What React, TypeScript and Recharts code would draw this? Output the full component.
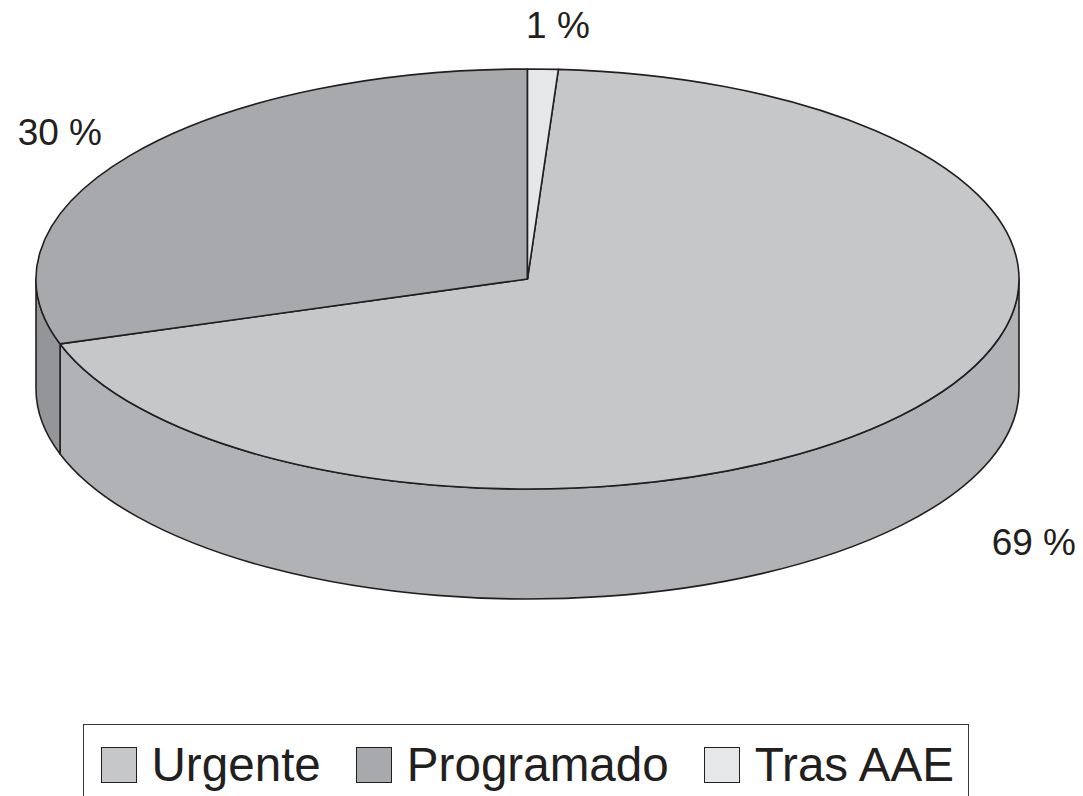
import React from "react"
import { Legend, Pie, PieChart } from "recharts"

const categories = ["Urgente", "Programado", "Tras AAE"]
const shares = [69, 30, 1]

const topColors = ["#c6c7c9", "#a7a9ac", "#e6e7e8"]
const wallColors = ["#b1b2b5", "#939598", "#d0d1d3"]
// nudge of each label from the middle of its slice rim
const labelNudges = [
  [118, 147],
  [-70, -11],
  [15, -31],
]

const INK = "#231f20"
const FONT = '"Liberation Sans", Arial, sans-serif'
const SQUASH = 210 / 491.5
const DEPTH = 110

const data = categories.map((name, i) => ({ name, value: shares[i], fill: topColors[i] }))

const rad = (a: number) => (a * Math.PI) / 180

const rim = (cx: number, cy: number, r: number, a: number) => ({
  x: cx + r * Math.cos(rad(a)),
  y: cy - r * SQUASH * Math.sin(rad(a)),
})

// Recharts has no 3d pie, so each sector is squashed to an ellipse and gets a wall
const Slice3D = (props: any) => {
  const { cx, cy, outerRadius: r, startAngle, endAngle, index } = props
  const ry = r * SQUASH
  const large = Math.abs(startAngle - endAngle) > 180 ? 1 : 0
  const s = rim(cx, cy, r, startAngle)
  const e = rim(cx, cy, r, endAngle)
  const top = `M${cx},${cy} L${s.x},${s.y} A${r},${ry} 0 ${large} 1 ${e.x},${e.y} Z`

  // only the part between 0 and -180 degrees faces the viewer
  const from = Math.min(startAngle, 0)
  const to = Math.max(endAngle, -180)
  let wall = null
  if (from > to) {
    const a = rim(cx, cy, r, from)
    const b = rim(cx, cy, r, to)
    const d = `M${a.x},${a.y} A${r},${ry} 0 0 1 ${b.x},${b.y} L${b.x},${b.y + DEPTH} A${r},${ry} 0 0 0 ${a.x},${a.y + DEPTH} Z`
    wall = <path d={d} fill={wallColors[index]} stroke={INK} strokeWidth={1.6} strokeLinejoin="round" />
  }
  return (
    <g>
      {wall}
      <path d={top} fill={topColors[index]} stroke={INK} strokeWidth={1.6} strokeLinejoin="round" />
    </g>
  )
}

const renderLabel = (props: any) => {
  const { cx, cy, midAngle, outerRadius, index, value } = props
  const p = rim(cx, cy, outerRadius, midAngle)
  return (
    <text
      x={p.x + labelNudges[index][0]}
      y={p.y + labelNudges[index][1]}
      textAnchor="middle"
      fontFamily={FONT}
      fontSize={37}
      fill={INK}
    >
      {`${value} %`}
    </text>
  )
}

const LegendBox = () => (
  <div
    style={{
      boxSizing: "border-box",
      width: 886,
      height: 72,
      border: `1.5px solid #3a3637`,
      borderBottom: "none",
      paddingLeft: 17,
      paddingTop: 22,
      display: "flex",
      alignItems: "flex-start",
      fontFamily: FONT,
      fontSize: 47.6,
      lineHeight: "36px",
      color: INK,
    }}
  >
    {categories.map((name, i) => (
      <div key={name} style={{ display: "flex", alignItems: "flex-start", marginRight: 35.5 }}>
        <span
          style={{
            boxSizing: "border-box",
            width: 36,
            height: 36,
            marginRight: 14.5,
            background: topColors[i],
            border: `1.5px solid ${INK}`,
          }}
        />
        <span style={{ whiteSpace: "nowrap" }}>{name}</span>
      </div>
    ))}
  </div>
)

export default function App() {
  return (
    <div style={{ position: "absolute", left: 0, top: 0, width: 1083, height: 796, overflow: "hidden", background: "#fff" }}>
      <PieChart width={1083} height={796} margin={{ top: 0, right: 0, bottom: 0, left: 0 }}>
        <Pie
          data={data}
          dataKey="value"
          nameKey="name"
          cx={527.5}
          cy={279}
          innerRadius={0}
          outerRadius={491.5}
          startAngle={86.4}
          endAngle={-273.6}
          shape={Slice3D}
          label={renderLabel}
          labelLine={false}
          isAnimationActive={false}
        />
        <Legend
          content={<LegendBox />}
          wrapperStyle={{ position: "absolute", left: 83, top: 724, width: 886, height: 72 }}
        />
      </PieChart>
    </div>
  )
}
